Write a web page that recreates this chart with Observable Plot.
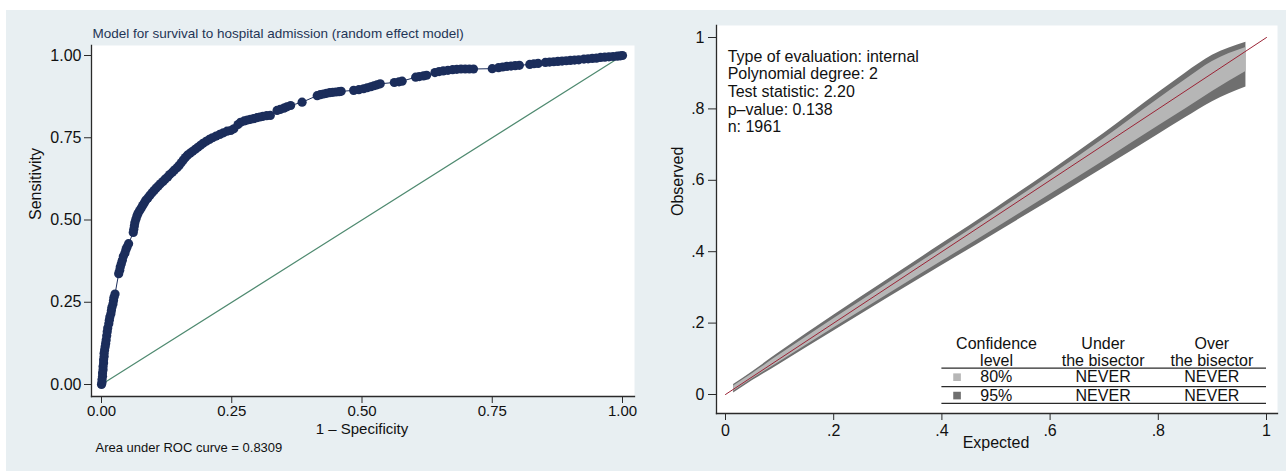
<!DOCTYPE html>
<html><head><meta charset="utf-8">
<script src="https://cdn.jsdelivr.net/npm/d3@7"></script>
<script src="https://cdn.jsdelivr.net/npm/@observablehq/plot@0.6"></script>
<style>
html,body{margin:0;padding:0;background:#fff;}
#wrap{position:relative;width:1286px;height:471px;overflow:hidden;background:#fff;}
#bg{position:absolute;left:6px;top:10px;width:1280px;height:461px;background:#e8eff2;}
#left{position:absolute;left:0;top:0;}
#right{position:absolute;left:645px;top:0;}
</style></head><body>
<div id="wrap"><div id="bg"></div><div id="left"></div><div id="right"></div></div>
<script>
// ---------- Left panel data: ROC curve ----------
const leftTitle = "Model for survival to hospital admission (random effect model)";
const rocXLabel = "1 \u2013 Specificity";
const rocYLabel = "Sensitivity";
const aucText = "Area under ROC curve = 0.8309";
const rocTicks = [0, 0.25, 0.5, 0.75, 1];
const chanceLine = [0, 1];
const rocFPR = [
  0,0.001,0.001,0.002,0.002,0.003,0.003,0.004,0.004,0.005,0.005,0.006,0.007,0.008,0.009,0.010,0.011,0.012,0.014,0.015,0.016,0.018,0.019,0.020,0.022,0.023,0.024,0.026,
  0.033,0.035,0.036,0.038,0.040,0.042,0.045,0.047,0.049,0.052,
  0.061,0.062,0.063,0.064,0.066,0.068,0.070,0.073,0.076,0.079,0.082,0.085,0.089,0.093,0.097,0.101,0.105,0.109,0.113,0.118,0.122,0.127,0.131,0.136,0.140,0.145,0.149,0.153,0.157,0.161,0.165,0.170,0.175,0.180,0.185,0.190,0.195,0.201,0.207,0.213,0.220,0.227,0.234,0.241,
  0.248,0.254,0.262,0.267,0.274,0.280,0.286,0.292,0.298,0.304,0.310,0.317,0.324,
  0.337,0.343,0.350,0.356,0.363,
  0.385,
  0.414,0.420,0.426,0.432,0.438,0.444,0.450,0.456,0.460,
  0.484,0.494,0.503,0.510,0.517,0.523,0.529,0.535,
  0.562,0.571,0.577,
  0.603,0.610,0.618,0.624,
  0.640,0.648,0.656,0.665,0.674,0.682,0.690,0.698,0.706,0.714,
  0.750,0.762,0.770,0.778,0.786,0.794,0.802,
  0.822,0.830,0.838,
  0.852,0.860,0.868,0.876,0.884,0.892,0.900,0.908,0.916,
  0.926,0.934,0.942,0.950,0.958,0.966,0.974,0.982,0.990,0.996,1
];
const rocTPR = [
  0,0.006,0.015,0.025,0.035,0.045,0.055,0.065,0.075,0.085,0.095,0.105,0.115,0.125,0.135,0.148,0.160,0.172,0.185,0.195,0.205,0.215,0.225,0.235,0.245,0.255,0.265,0.275,
  0.337,0.347,0.357,0.367,0.378,0.390,0.400,0.410,0.418,0.428,
  0.462,0.472,0.482,0.492,0.502,0.512,0.520,0.528,0.536,0.544,0.552,0.560,0.567,0.575,0.583,0.590,0.597,0.603,0.610,0.617,0.624,0.631,0.638,0.645,0.652,0.659,0.666,0.674,0.682,0.690,0.697,0.703,0.709,0.715,0.721,0.727,0.733,0.739,0.745,0.750,0.755,0.760,0.765,0.770,
  0.772,0.777,0.790,0.797,0.801,0.804,0.806,0.808,0.811,0.813,0.815,0.817,0.818,
  0.833,0.836,0.840,0.844,0.848,
  0.858,
  0.878,0.881,0.883,0.885,0.887,0.888,0.889,0.890,0.891,
  0.894,0.896,0.899,0.902,0.905,0.908,0.911,0.914,
  0.918,0.920,0.922,
  0.934,0.936,0.938,0.940,
  0.948,0.951,0.953,0.955,0.957,0.958,0.959,0.959,0.959,0.959,
  0.960,0.963,0.965,0.967,0.968,0.969,0.970,
  0.973,0.975,0.976,
  0.979,0.980,0.981,0.982,0.983,0.984,0.985,0.986,0.987,
  0.989,0.990,0.991,0.992,0.994,0.995,0.996,0.997,0.998,0.999,1
];

// ---------- Right panel data: calibration belt ----------
const calXLabel = "Expected";
const calYLabel = "Observed";
const calTicks = [0, 0.2, 0.4, 0.6, 0.8, 1];
const bisector = [0, 1];
const beltX     = [0.015, 0.05, 0.10, 0.20, 0.30, 0.40, 0.50, 0.60, 0.70, 0.80, 0.85, 0.90, 0.962];
const belt95Lo  = [0.004, 0.039, 0.085, 0.178, 0.270, 0.361, 0.452, 0.543, 0.635, 0.728, 0.775, 0.820, 0.861];
const belt80Lo  = [0.009, 0.044, 0.091, 0.186, 0.280, 0.373, 0.466, 0.560, 0.655, 0.752, 0.800, 0.849, 0.905];
const belt80Hi  = [0.024, 0.059, 0.111, 0.212, 0.311, 0.410, 0.510, 0.612, 0.717, 0.828, 0.882, 0.933, 0.972];
const belt95Hi  = [0.028, 0.064, 0.118, 0.222, 0.322, 0.422, 0.522, 0.625, 0.732, 0.845, 0.900, 0.950, 0.987];
const evalLines = ["Type of evaluation: internal", "Polynomial degree: 2", "Test statistic: 2.20", "p\u2013value: 0.138", "n: 1961"];
const tableHeaders = ["Confidence\nlevel", "Under\nthe bisector", "Over\nthe bisector"];
const confLevels = ["80%", "95%"];
const underBisector = ["NEVER", "NEVER"];
const overBisector = ["NEVER", "NEVER"];

// ---------- styles ----------
const FONT = `"Liberation Sans", Arial, Helvetica, sans-serif`;
const NAVY = "#1b2d5b";
const GREEN = "#4f8a70";
const RED = "#9b2335";
const LIGHT = "#b6b6b6";
const DARK = "#6f6f6f";
const AXIS = "#2a2a2a";

// ---------- Left chart ----------
const roc = rocFPR.map((x, i) => ({x, y: rocTPR[i]}));
const chance = chanceLine.map(v => ({x: v, y: v}));

const leftChart = Plot.plot({
  width: 645, height: 471,
  marginLeft: 101, marginRight: 23, marginTop: 55, marginBottom: 87,
  x: {domain: [0, 1]},
  y: {domain: [0, 1]},
  style: {background: "transparent", fontFamily: FONT, color: "#111", overflow: "visible"},
  marks: [
    Plot.frame({fill: "white", stroke: "none", insetLeft: -10, insetRight: -12, insetTop: -10, insetBottom: -12}),
    Plot.line(chance, {x: "x", y: "y", stroke: GREEN, strokeWidth: 1.2}),
    Plot.line(roc, {x: "x", y: "y", stroke: NAVY, strokeWidth: 1}),
    Plot.dot(roc, {x: "x", y: "y", r: 4.6, fill: NAVY, stroke: "none"}),
    Plot.frame({anchor: "left", stroke: AXIS, strokeWidth: 1.3, insetLeft: -10, insetTop: -10, insetBottom: -12}),
    Plot.frame({anchor: "bottom", stroke: AXIS, strokeWidth: 1.3, insetLeft: -10, insetRight: -12, insetBottom: -12}),
    Plot.axisY(rocTicks, {tickFormat: d3.format(".2f"), tickSize: 7, tickPadding: 3, dx: -10, fontSize: 16, label: null, stroke: AXIS}),
    Plot.axisX(rocTicks, {tickFormat: d3.format(".2f"), tickSize: 7, tickPadding: 2, dy: 12, fontSize: 15, label: null, stroke: AXIS}),
    Plot.text([leftTitle], {frameAnchor: "top-left", textAnchor: "start", dx: -9, dy: -27, fontSize: 13.5, fill: "#1f3556"}),
    Plot.text([rocXLabel], {frameAnchor: "bottom", dy: 49, fontSize: 15}),
    Plot.text([rocYLabel], {frameAnchor: "left", dx: -66, rotate: -90, fontSize: 16}),
    Plot.text([aucText], {frameAnchor: "bottom-left", textAnchor: "start", dx: -6, dy: 67, fontSize: 13})
  ]
});
document.getElementById("left").appendChild(leftChart);

// ---------- Right chart ----------
const belt = beltX.map((x, i) => ({x, lo95: belt95Lo[i], lo80: belt80Lo[i], hi80: belt80Hi[i], hi95: belt95Hi[i]}));
const bis = bisector.map(v => ({x: v, y: v}));
const calFmt = d => d === 0 ? "0" : d === 1 ? "1" : String(d).replace(/^0/, "");

// table layout in data units (expected / observed)
const colX = [0.501, 0.698, 0.899];
const headerY = 0.119;
const rowY = [0.0485, -0.003];
const ruleYs = [0.074, 0.022, -0.025];
const rows = confLevels.map((lvl, i) => ({lvl, under: underBisector[i], over: overBisector[i], y: rowY[i], fill: i === 0 ? LIGHT : DARK}));

const rightChart = Plot.plot({
  width: 641, height: 471,
  marginLeft: 80, marginRight: 20, marginTop: 37, marginBottom: 77,
  x: {domain: [0, 1]},
  y: {domain: [0, 1]},
  style: {background: "transparent", fontFamily: FONT, color: "#111", overflow: "visible"},
  marks: [
    Plot.frame({fill: "white", stroke: "none", insetLeft: -9, insetRight: -11, insetTop: -12, insetBottom: -19}),
    Plot.areaY(belt, {x: "x", y1: "lo95", y2: "hi95", fill: DARK, curve: "monotone-x"}),
    Plot.areaY(belt, {x: "x", y1: "lo80", y2: "hi80", fill: LIGHT, curve: "monotone-x"}),
    Plot.line(bis, {x: "x", y: "y", stroke: RED, strokeWidth: 1}),
    Plot.text([evalLines.join("\n")], {x: 0.004, y: 0.967, lineAnchor: "top", textAnchor: "start", fontSize: 16, lineHeight: 1.1}),
    Plot.text(tableHeaders, {x: (d, i) => colX[i], y: headerY, fontSize: 16, lineHeight: 1.06}),
    Plot.ruleY(ruleYs, {x1: 0.40, x2: 1.0, stroke: AXIS, strokeWidth: 1.2}),
    Plot.dot(rows, {x: 0.428, y: "y", symbol: "square", r: 4.3, fill: "fill", stroke: "none"}),
    Plot.text(rows, {x: 0.471, y: "y", text: "lvl", textAnchor: "start", fontSize: 16}),
    Plot.text(rows, {x: colX[1], y: "y", text: "under", fontSize: 16}),
    Plot.text(rows, {x: colX[2], y: "y", text: "over", fontSize: 16}),
    Plot.frame({anchor: "left", stroke: AXIS, strokeWidth: 1.3, insetLeft: -9, insetTop: -12, insetBottom: -19}),
    Plot.frame({anchor: "bottom", stroke: AXIS, strokeWidth: 1.3, insetLeft: -9, insetRight: -11, insetBottom: -19}),
    Plot.axisY(calTicks, {tickFormat: calFmt, tickSize: 8, tickPadding: 4, dx: -9, fontSize: 16, label: null, stroke: AXIS}),
    Plot.axisX(calTicks, {tickFormat: calFmt, tickSize: 7, tickPadding: 4, dy: 19, fontSize: 16, label: null, stroke: AXIS}),
    Plot.text([calXLabel], {frameAnchor: "bottom", dy: 53, fontSize: 16}),
    Plot.text([calYLabel], {frameAnchor: "left", dx: -48, rotate: -90, fontSize: 16})
  ]
});
document.getElementById("right").appendChild(rightChart);
</script>
</body></html>
